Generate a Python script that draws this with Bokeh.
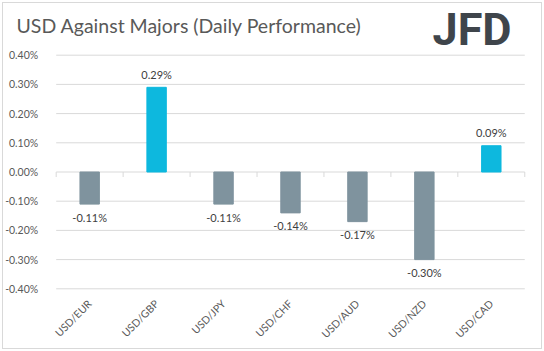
import math
from bokeh.plotting import figure
from bokeh.models import Range1d, FixedTicker, PrintfTickFormatter, ColumnDataSource
from bokeh.core.properties import value
from bokeh.embed import file_html
from bokeh.resources import INLINE

# ---- data ----
pairs = ["USD/EUR", "USD/GBP", "USD/JPY", "USD/CHF", "USD/AUD", "USD/NZD", "USD/CAD"]
changes = [-0.11, 0.29, -0.11, -0.14, -0.17, -0.30, 0.09]
y_ticks = [-0.4, -0.3, -0.2, -0.1, 0.0, 0.1, 0.2, 0.3, 0.4]
title_text = "USD Against Majors (Daily Performance)"
logo_text = "JFD"

POS = "#0db8de"
NEG = "#7f939e"
TXT = "#595959"
GRID = "#d9d9d9"
FONT = "Lato"

W, H = 544, 351
# pixel geometry of the plotting area (frame spans the whole canvas)
XL, CW = 55.7, 66.94        # left category boundary, px per category
Y0, PPU = 171.5, 292.0      # px of 0 %, px per 1 %

def px2x(px):
    return (px - XL) / CW

def px2y(py):
    return (Y0 - py) / PPU

n = len(pairs)
p = figure(width=W, height=H,
           x_range=Range1d(px2x(0), px2x(W)), y_range=Range1d(px2y(H), px2y(0)),
           output_backend="svg", toolbar_location=None, title=None,
           min_border=0, min_border_left=0, min_border_right=0,
           min_border_top=0, min_border_bottom=0,
           styles={"outline": "1px solid #d9d9d9", "outline-offset": "-3px",
                   "background-color": "white"})
p.outline_line_color = None
p.background_fill_alpha = 0
p.border_fill_alpha = 0
p.grid.visible = False

# gridlines across the category span
p.segment(x0=[0] * len(y_ticks), x1=[n] * len(y_ticks), y0=y_ticks, y1=y_ticks,
          line_color=GRID, line_width=1)
# category boundary ticks on the zero line
bounds = list(range(n + 1))
tick_bottom = px2y(Y0 + 5)
p.segment(x0=bounds, x1=bounds, y0=[0] * len(bounds), y1=[tick_bottom] * len(bounds),
          line_color=GRID, line_width=1)

xc = [i + 0.5 for i in range(n)]
colors = [POS if v >= 0 else NEG for v in changes]
labels = [f"{v:.2f}%" for v in changes]
offs = [-13 if v >= 0 else 13 for v in changes]
src = ColumnDataSource(dict(x=xc, top=changes, color=colors, label=labels, off=offs))

p.vbar(x="x", top="top", bottom=0, width=0.29, color="color", source=src)
p.text(x="x", y="top", text="label", y_offset="off", source=src,
       text_align="center", text_baseline="middle", text_font=value(FONT),
       text_font_size="11px", text_color="#404040")

# y axis (labels only), pinned at the left category boundary
p.yaxis.fixed_location = 0
p.yaxis.ticker = FixedTicker(ticks=y_ticks)
p.yaxis.formatter = PrintfTickFormatter(format="%.2f%%")
p.yaxis.axis_line_color = None
p.yaxis.major_tick_line_color = None
p.yaxis.minor_tick_line_color = None
p.yaxis.major_label_standoff = 12
p.yaxis.major_label_text_font = FONT
p.yaxis.major_label_text_font_size = "10.5px"
p.yaxis.major_label_text_color = TXT

# x axis (category labels), pinned at the bottom of the value range
p.xaxis.fixed_location = y_ticks[0]
p.xaxis.ticker = FixedTicker(ticks=xc)
p.xaxis.major_label_overrides = {x: name for x, name in zip(xc, pairs)}
p.xaxis.axis_line_color = None
p.xaxis.major_tick_line_color = None
p.xaxis.minor_tick_line_color = None
p.xaxis.major_label_orientation = math.pi / 4
p.xaxis.major_label_standoff = 7
p.xaxis.major_label_text_font = FONT
p.xaxis.major_label_text_font_size = "10.5px"
p.xaxis.major_label_text_color = TXT

# title and logo
p.text(x=[px2x(16)], y=[px2y(25)], text=[title_text], text_font=value(FONT),
       text_font_size="19.5px", text_color=TXT, text_baseline="alphabetic", text_align="left")
p.text(x=[px2x(432)], y=[px2y(29)], text=[logo_text], text_font=value("Roboto"),
       text_font_style="bold", text_font_size="45px", text_color="#3f454b",
       text_baseline="alphabetic", text_align="left")

open("out.html", "w").write(file_html(p, INLINE))
